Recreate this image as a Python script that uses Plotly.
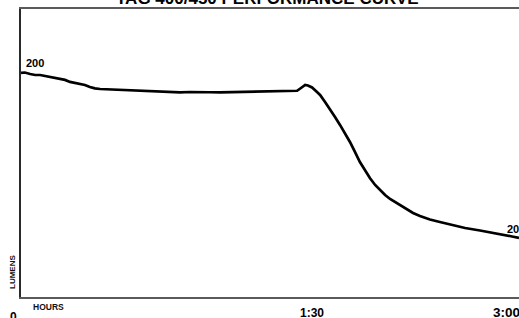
import plotly.graph_objects as go

# Time in minutes, relative lumens
minutes = [0, 1.4, 3.3, 5.1, 6.9, 8.7, 10.5, 12.3, 14.1, 15.9, 17.7, 19.5, 21.3, 23.1, 24.9,
           26.7, 28.6, 32.2, 35.8, 39.4, 43.0, 46.6, 50.2, 53.9, 57.5, 61.1, 64.7, 68.3, 71.9,
           75.5, 79.2, 82.8, 86.4, 90.0, 93.6, 97.2, 99.8, 101.2, 102.7, 103.7, 105.2, 106.6,
           108.1, 109.9, 111.7, 113.5, 115.3, 117.1, 118.9, 120.7, 122.5, 124.3, 126.1, 128.0,
           129.8, 131.6, 133.4, 135.9, 138.8, 141.7, 144.2, 147.8, 151.4, 154.0, 156.9, 160.5,
           165.9, 171.3, 174.9, 177.5, 180.0]
lumens = [200.0, 200.4, 199.1, 198.2, 198.2, 197.3, 196.4, 196.0, 194.6, 193.8, 192.0, 191.1,
          190.2, 189.3, 187.5, 186.2, 185.7, 185.3, 185.3, 184.8, 184.4, 183.9, 183.5, 183.0,
          182.6, 183.0, 182.6, 182.8, 182.6, 182.8, 183.0, 183.5, 183.9, 183.9, 183.9, 183.9,
          184.1, 186.6, 189.3, 188.8, 187.1, 183.9, 180.4, 174.1, 167.9, 160.7, 153.6, 146.4,
          138.4, 129.5, 120.5, 113.4, 106.2, 100.0, 95.5, 91.1, 87.5, 83.9, 79.5, 75.0, 72.3,
          69.2, 67.0, 65.6, 63.8, 61.6, 59.4, 57.1, 55.4, 54.0, 52.7]

title_text = "TAG 400/450 PERFORMANCE CURVE"
tick_labels = ["0", "1:30", "3:00"]
start_label = "200"
end_label = "20"
x_title = "HOURS"
y_title = "LUMENS"

FONT = "Arial, 'Liberation Sans', sans-serif"

fig = go.Figure()
fig.add_trace(go.Scatter(x=minutes, y=lumens, mode="lines",
                         line=dict(color="#000000", width=2.7), hoverinfo="skip"))

ann = []
ann.append(dict(text="<b>%s</b>" % title_text, xref="paper", yref="paper", x=0.495, y=1.0,
                xanchor="center", yanchor="bottom", yshift=-1, showarrow=False,
                font=dict(family=FONT, size=17, color="#000")))
ann.append(dict(text="<b>%s</b>" % start_label, xref="paper", yref="paper", x=0.006, y=0.8125,
                xanchor="left", yanchor="middle", showarrow=False,
                font=dict(family=FONT, size=11, color="#000")))
ann.append(dict(text="<b>%s</b>" % end_label, xref="paper", yref="paper", x=0.972, y=0.236,
                xanchor="left", yanchor="middle", showarrow=False,
                font=dict(family=FONT, size=11, color="#000")))
ann.append(dict(text="<b>%s</b>" % x_title, xref="paper", yref="paper", x=0.02, y=-0.035,
                xanchor="left", yanchor="middle", showarrow=False,
                font=dict(family=FONT, size=8.5, color="#111")))
ann.append(dict(text="<b>%s</b>" % y_title, xref="paper", yref="paper", x=-0.016, y=0.087,
                xanchor="center", yanchor="middle", textangle=-90, showarrow=False,
                font=dict(family=FONT, size=8, color="#111")))
ann.append(dict(text="<b>%s</b>" % tick_labels[0], xref="paper", yref="paper", x=-0.016, y=-0.068,
                xanchor="center", yanchor="middle", showarrow=False,
                font=dict(family=FONT, size=12, color="#000")))
ann.append(dict(text="<b>%s</b>" % tick_labels[1], xref="paper", yref="paper", x=0.584, y=-0.055,
                xanchor="center", yanchor="middle", showarrow=False,
                font=dict(family=FONT, size=12, color="#000")))
ann.append(dict(text="<b>%s</b>" % tick_labels[2], xref="paper", yref="paper", x=0.943, y=-0.055,
                xanchor="left", yanchor="middle", showarrow=False,
                font=dict(family=FONT, size=13.5, color="#000")))

fig.update_layout(
    width=519, height=318,
    margin=dict(l=21, r=0, t=9, b=21),
    paper_bgcolor="white", plot_bgcolor="white",
    showlegend=False,
    annotations=ann,
    xaxis=dict(range=[0, 180], showgrid=False, zeroline=False, showticklabels=False,
               ticks="", showline=True, linecolor="#5a5a5a", linewidth=2, mirror=True),
    yaxis=dict(range=[0, 257.1], showgrid=False, zeroline=False, showticklabels=False,
               ticks="", showline=True, linecolor="#2a2a2a", linewidth=2, mirror=False),
)

fig.write_html("out.html", config={"displayModeBar": False, "staticPlot": True},
               post_script="document.body.style.margin='0';document.body.style.overflow='hidden';")
